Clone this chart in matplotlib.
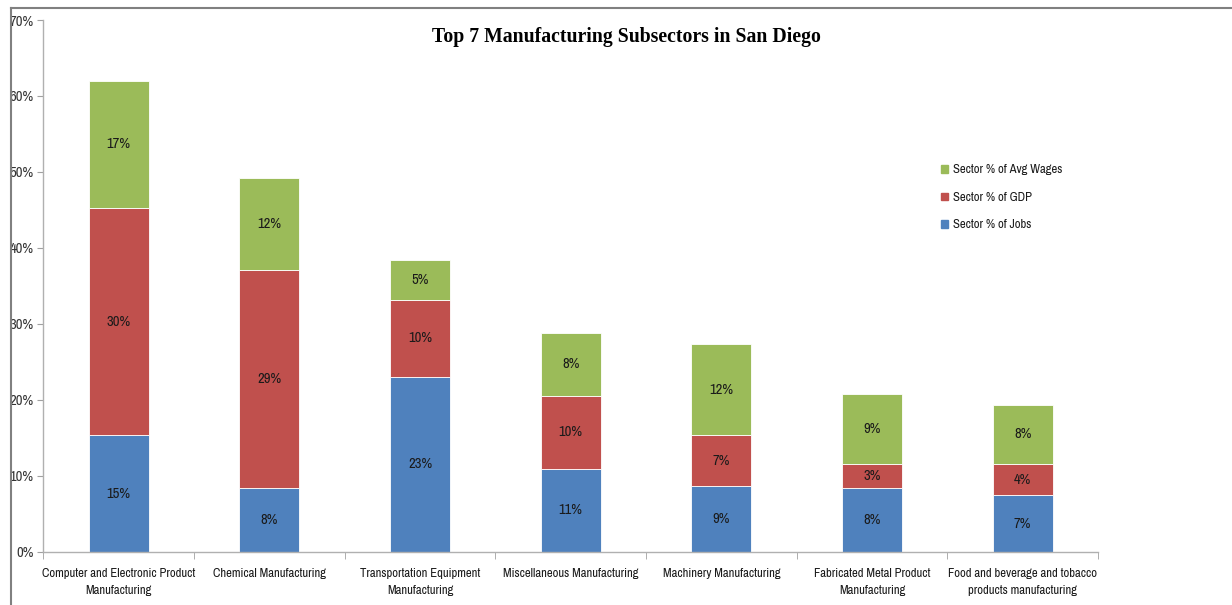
import numpy as np
import matplotlib
matplotlib.use("Agg")
import matplotlib.pyplot as plt
from matplotlib.lines import Line2D
from matplotlib.patches import Patch
import matplotlib.ticker as ticker

categories = [
    "Computer and Electronic Product\nManufacturing",
    "Chemical Manufacturing",
    "Transportation Equipment\nManufacturing",
    "Miscellaneous Manufacturing",
    "Machinery Manufacturing",
    "Fabricated Metal Product\nManufacturing",
    "Food and beverage and tobacco\nproducts manufacturing",
]
jobs = [15.3, 8.4, 23.0, 10.9, 8.7, 8.4, 7.4]
gdp = [30.0, 28.7, 10.2, 9.6, 6.6, 3.2, 4.2]
wages = [16.7, 12.1, 5.2, 8.3, 12.0, 9.2, 7.7]

series_names = ["Sector % of Jobs", "Sector % of GDP", "Sector % of Avg Wages"]
colors = ["#4F81BD", "#C0504D", "#9BBB59"]

plt.rcParams["font.family"] = ["Archivo Narrow", "Carlito", "DejaVu Sans"]
fs_num = 10.5   # numbers (tick and bar labels)
fs_txt = 9.1    # words (category names, legend)

fig = plt.figure(figsize=(12.32, 6.05), dpi=100)
ax = fig.add_axes([43.3 / 1232, 1 - 551.7 / 605, (1098 - 43.3) / 1232, (551.7 - 20) / 605])

x = np.arange(len(categories))
bar_width = 0.4
bottom = np.zeros(len(categories))
for vals, name, col in zip([jobs, gdp, wages], series_names, colors):
    vals = np.array(vals)
    ax.bar(x, vals, width=bar_width, bottom=bottom, color=col, label=name,
           edgecolor="white", linewidth=0.6)
    for xi, b, v in zip(x, bottom, vals):
        ax.text(xi, b + v / 2, f"{v:.0f}%", ha="center", va="center",
                fontsize=fs_num, color="#1a1a1a")
    bottom += vals

ax.set_xlim(-0.5, len(categories) - 0.5)
ax.set_ylim(0, 70)
ax.yaxis.set_major_locator(ticker.MultipleLocator(10))
ax.yaxis.set_major_formatter(ticker.FuncFormatter(lambda v, _: f"{int(v)}%"))
ax.set_xticks(x)
ax.set_xticklabels(categories, fontsize=fs_txt, color="#1a1a1a", linespacing=1.6)
ax.set_xticks(np.arange(len(categories) + 1) - 0.5, minor=True)
ax.tick_params(axis="x", which="major", length=0, pad=12)
ax.tick_params(axis="x", which="minor", length=5, color="#a0a0a0")
ax.tick_params(axis="y", length=4, color="#a0a0a0", labelsize=fs_num,
               labelcolor="#333333", pad=3)

for s in ["top", "right"]:
    ax.spines[s].set_visible(False)
for s in ["left", "bottom"]:
    ax.spines[s].set_color("#b0b0b0")
    ax.spines[s].set_linewidth(1.0)

handles = [Patch(color=c) for c in colors][::-1]
labels = series_names[::-1]
leg = fig.legend(handles, labels, loc="upper left",
                 bbox_to_anchor=(930 / 1232, 1 - 153 / 605),
                 frameon=False, fontsize=fs_txt, handlelength=0.55,
                 handleheight=0.55, handletextpad=0.35, labelspacing=1.3)
for t in leg.get_texts():
    t.set_color("#1a1a1a")

fig.text(626 / 1232, 1 - 37 / 605, "Top 7 Manufacturing Subsectors in San Diego",
         ha="center", va="center", fontsize=14.2, fontweight="bold",
         family=["Liberation Serif"], color="black")

# outer frame (top and left edges)
fig.add_artist(Line2D([11 / 1232, 11 / 1232], [0, 1 - 8 / 605],
                      transform=fig.transFigure, color="#808080", lw=1.5))
fig.add_artist(Line2D([11 / 1232, 1], [1 - 8 / 605, 1 - 8 / 605],
                      transform=fig.transFigure, color="#808080", lw=1.5))

fig.savefig("out.png", dpi=100)
